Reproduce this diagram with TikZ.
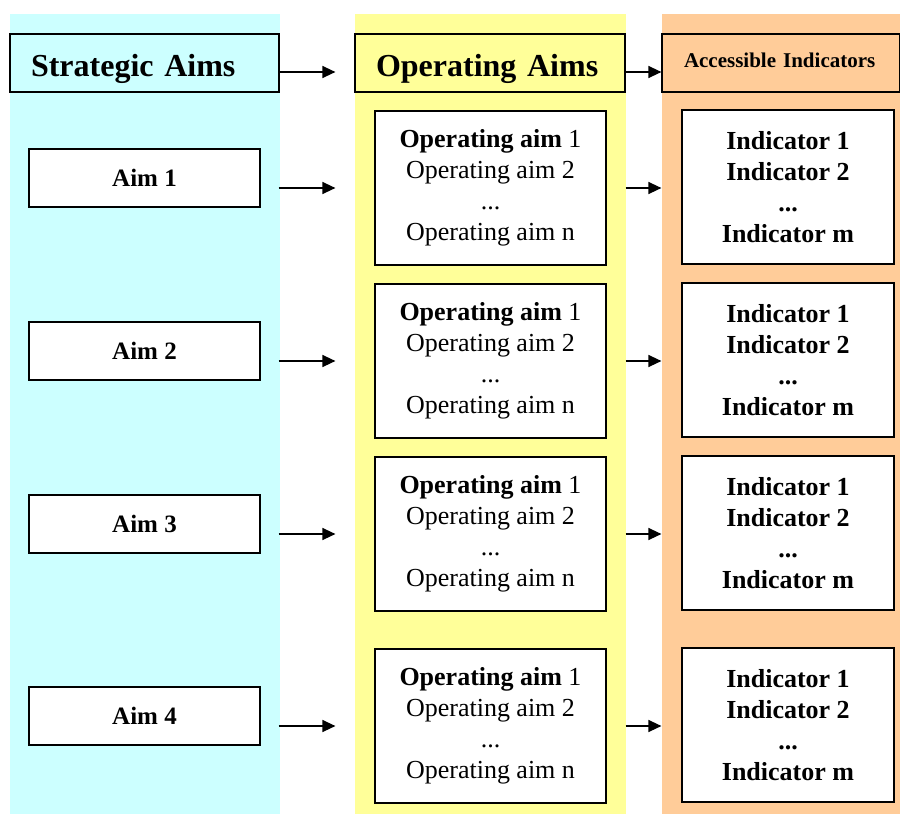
\documentclass[tikz,border=0pt]{standalone}
\usepackage{fontspec}
\setmainfont{Liberation Serif}
\usetikzlibrary{arrows.meta}
\definecolor{cyanbg}{HTML}{CCFFFF}
\definecolor{yellowbg}{HTML}{FFFF99}
\definecolor{orangebg}{HTML}{FFCC99}
\tikzset{
  hdr/.style={draw=black, line width=1.2pt, minimum height=58pt, inner xsep=0pt, inner ysep=0pt, align=left, anchor=center},
  aimbox/.style={draw=black, fill=white, line width=1.2pt, minimum width=231pt, minimum height=58pt, inner sep=0pt, font=\fontsize{25}{30}\selectfont\bfseries},
  opbox/.style={draw=black, fill=white, line width=1.2pt, minimum width=231pt, minimum height=154pt, inner sep=0pt, align=center, font=\fontsize{26}{31}\selectfont},
  indbox/.style={draw=black, fill=white, line width=1.2pt, minimum width=212pt, minimum height=154pt, inner sep=0pt, align=center, font=\fontsize{26}{31}\selectfont\bfseries},
  arr/.style={line width=1.3pt, -{Triangle[length=13pt,width=12pt]}}
}
\newcommand{\optext}{\textbf{Operating aim} 1\\Operating aim 2\\...\\Operating aim n}
\newcommand{\indtext}{Indicator 1\\Indicator 2\\...\\Indicator m}
\begin{document}
\begin{tikzpicture}[x=1pt,y=-1pt]
\useasboundingbox (0,0) rectangle (900,814);
% column backgrounds
\fill[cyanbg] (10,14) rectangle (280,814);
\fill[yellowbg] (355,14) rectangle (626,814);
\fill[orangebg] (662,14) rectangle (900,814);
% headers
\node[hdr, fill=cyanbg, minimum width=269pt, text width=227pt, text height=32pt, text depth=6pt, font=\fontsize{32}{36}\selectfont\bfseries] (sa) at (144.5,63) {Strategic Aims};
\node[hdr, fill=yellowbg, minimum width=270pt, text width=228pt, text height=32pt, text depth=6pt, font=\fontsize{32}{36}\selectfont\bfseries] (oa) at (490,63) {Operating Aims};
\node[hdr, fill=orangebg, minimum width=238pt, text width=194pt, text height=20pt, text depth=12pt, font=\fontsize{21}{25}\selectfont\bfseries] (ai) at (781,63) {Accessible Indicators};
% aim boxes
\node[aimbox] (aim1) at (144.5,178) {Aim 1};
\node[aimbox] (aim2) at (144.5,351) {Aim 2};
\node[aimbox] (aim3) at (144.5,524) {Aim 3};
\node[aimbox] (aim4) at (144.5,716) {Aim 4};
% operating boxes
\node[opbox] (op1) at (490.5,188) {\optext};
\node[opbox] (op2) at (490.5,361) {\optext};
\node[opbox] (op3) at (490.5,534) {\optext};
\node[opbox] (op4) at (490.5,726) {\optext};
% indicator boxes
\node[indbox] (ind1) at (788,187) {\indtext};
\node[indbox] (ind2) at (788,360) {\indtext};
\node[indbox] (ind3) at (788,533) {\indtext};
\node[indbox] (ind4) at (788,725) {\indtext};
% header arrows
\draw[arr, shorten >=19pt] ([yshift=-9pt]sa.east) -- ([yshift=-9pt]oa.west);
\draw[arr] ([yshift=-9pt]oa.east) -- ([yshift=-9pt]ai.west);
% aim -> operating, operating -> indicators
\foreach \i in {1,2,3,4}{
  \draw[arr, shorten <=18pt, shorten >=39pt] (aim\i.east |- op\i.west) -- (op\i.west);
  \draw[arr, shorten <=19pt, shorten >=20pt] (op\i.east) -- (op\i.east -| ind\i.west);
}
\end{tikzpicture}
\end{document}
